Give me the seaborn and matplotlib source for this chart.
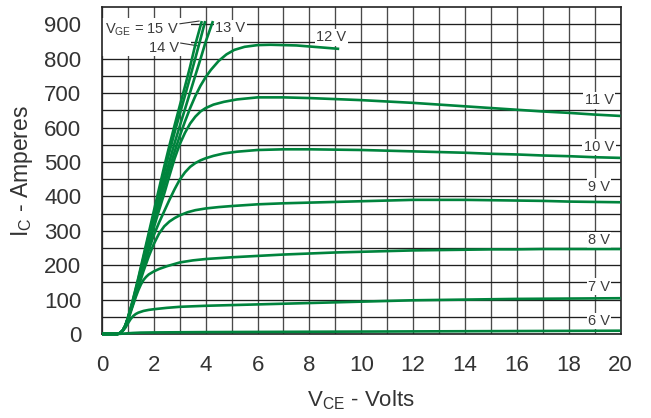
import matplotlib
matplotlib.use("Agg")
import matplotlib.pyplot as plt
import pandas as pd
import seaborn as sns
from matplotlib.patches import Rectangle
from matplotlib.ticker import MultipleLocator

# Output characteristics I_C vs V_CE, one curve per gate voltage
v_6v = [0, 0.6, 0.8, 1.0, 1.2, 1.5, 2, 3, 4, 6, 8, 10, 12, 14, 16, 18, 20]
i_6v = [0, 0, 1, 2, 3, 4, 4.5, 5, 5.5, 6, 6.5, 7, 7.5, 8, 8.5, 9, 9.5]

v_7v = [0, 0.6, 0.7, 0.8, 0.9, 1.0, 1.1, 1.2, 1.3, 1.4, 1.6, 1.8, 2.0, 2.5, 3.0,
        4.0, 5.0, 6.0, 7.0, 8.0, 9.0, 10, 12, 14, 16, 18, 20]
i_7v = [0, 0, 3, 9, 18, 31, 43, 52, 58, 62, 67, 70, 72, 76, 79,
        82, 84, 86, 88, 90, 92, 94, 98, 100, 102, 103, 104]

v_8v = [0, 0.6, 0.7, 0.8, 0.9, 1.0, 1.1, 1.2, 1.3, 1.4, 1.5, 1.6, 1.7, 1.8, 2.0,
        2.2, 2.5, 3.0, 3.5, 4.0, 5.0, 6.0, 7.0, 8.0, 9.0, 10, 11, 12, 13, 14,
        15, 16, 17, 18, 19, 20]
i_8v = [0, 0, 3, 10, 22, 40, 62, 85, 107, 127, 144, 157, 166, 173, 182,
        189, 197, 208, 214, 218, 223, 227, 231, 234, 237, 239, 241, 243, 244, 245,
        246, 246, 247, 247, 247, 247]

v_9v = [0, 0.6, 0.7, 0.8, 0.9, 1.0, 1.1, 1.2, 1.4, 1.6, 1.8, 2.0, 2.2, 2.4, 2.6,
        2.8, 3.0, 3.3, 3.6, 4.0, 4.5, 5.0, 6.0, 7.0, 8.0, 9.0, 10, 11, 12, 13,
        14, 15, 16, 17, 18, 19, 20]
i_9v = [0, 0, 3, 10, 23, 43, 66, 88, 136, 183, 225, 262, 292, 313, 327,
        337, 345, 354, 360, 365, 369, 372, 377, 380, 382, 384, 386, 388, 390, 390,
        390, 389, 388, 387, 385, 384, 383]

v_10v = [0, 0.6, 0.7, 0.8, 0.9, 1.0, 1.1, 1.2, 1.4, 1.6, 1.8, 2.0, 2.2, 2.4, 2.6,
         2.8, 3.0, 3.2, 3.4, 3.6, 3.8, 4.0, 4.3, 4.7, 5.2, 6.0, 7.0, 8.0, 9.0, 10,
         11, 12, 13, 14, 15, 16, 17, 18, 19, 20]
i_10v = [0, 0, 3, 10, 24, 44, 68, 91, 142, 194, 243, 288, 324, 357, 390,
         421, 449, 470, 486, 497, 505, 511, 518, 525, 530, 535, 537, 537, 536, 535,
         533, 531, 529, 527, 524, 522, 519, 517, 514, 512]

v_11v = [0, 0.6, 0.7, 0.8, 0.9, 1.0, 1.1, 1.2, 1.4, 1.6, 1.8, 2.0, 2.2, 2.4, 2.6,
         2.8, 3.0, 3.2, 3.4, 3.6, 3.8, 4.0, 4.3, 4.7, 5.2, 6.0, 7.0, 8.0, 9.0, 10,
         11, 12, 13, 14, 15, 16, 17, 18, 19, 20]
i_11v = [0, 0, 3, 10, 24, 45, 69, 93, 146, 202, 257, 310, 360, 408, 460,
         510, 552, 585, 612, 632, 647, 657, 667, 675, 682, 688, 688, 686, 683, 680,
         676, 672, 667, 662, 657, 652, 647, 643, 638, 634]

v_12v = [0, 0.6, 0.7, 0.8, 0.9, 1.0, 1.1, 1.2, 1.4, 1.6, 1.8, 2.0, 2.2, 2.4, 2.6,
         2.8, 3.0, 3.2, 3.4, 3.6, 3.8, 4.0, 4.2, 4.5, 4.8, 5.1, 5.5, 6.0, 6.5, 7.0,
         7.5, 8.0, 8.5, 9.15]
i_12v = [0, 0, 3, 10, 24, 45, 70, 95, 150, 208, 265, 322, 377, 430, 481,
         530, 576, 618, 657, 692, 722, 747, 768, 794, 813, 826, 835, 840, 841, 840,
         839, 836, 833, 829]

v_13v = [0, 0.6, 0.7, 0.8, 0.9, 1.0, 1.1, 1.2, 1.4, 1.6, 1.8, 2.0, 2.2, 2.4, 2.6,
         2.8, 3.0, 3.2, 3.4, 3.6, 3.8, 4.0, 4.28]
i_13v = [0, 0, 3, 10, 24, 46, 71, 97, 154, 214, 274, 333, 391, 448, 502,
         555, 605, 654, 703, 752, 800, 850, 910]

v_14v = [0, 0.6, 0.7, 0.8, 0.9, 1.0, 1.1, 1.2, 1.4, 1.6, 1.8, 2.0, 2.2, 2.4, 2.6,
         2.8, 3.0, 3.2, 3.4, 3.6, 3.8, 3.98]
i_14v = [0, 0, 3, 10, 25, 47, 73, 100, 159, 222, 285, 347, 409, 470, 529,
         586, 640, 693, 747, 802, 858, 910]

v_15v = [0, 0.6, 0.7, 0.8, 0.9, 1.0, 1.1, 1.2, 1.4, 1.6, 1.8, 2.0, 2.2, 2.4, 2.6,
         2.8, 3.0, 3.2, 3.4, 3.6, 3.85]
i_15v = [0, 0, 3, 10, 25, 48, 74, 102, 163, 228, 293, 358, 423, 487, 548,
         607, 664, 720, 778, 842, 910]

gate_names = ["6 V", "7 V", "8 V", "9 V", "10 V", "11 V", "12 V", "13 V", "14 V", "15 V"]
curves = [(v_6v, i_6v), (v_7v, i_7v), (v_8v, i_8v), (v_9v, i_9v), (v_10v, i_10v),
          (v_11v, i_11v), (v_12v, i_12v), (v_13v, i_13v), (v_14v, i_14v), (v_15v, i_15v)]

x_ticks = list(range(0, 21, 2))
y_ticks = list(range(0, 901, 100))

df = pd.concat(
    [pd.DataFrame({"V_CE": v, "I_C": i, "V_GE": name})
     for name, (v, i) in zip(gate_names, curves)],
    ignore_index=True,
)

GREEN = "#00843d"
TEXT = "#333333"
LABEL = "#3c3c3c"

sns.set_theme(style="white")
plt.rcParams["font.family"] = ["Liberation Sans", "DejaVu Sans"]

fig = plt.figure(figsize=(6.51, 4.18), dpi=100)
ax = fig.add_axes([0.1567, 0.2010, 0.7965, 0.7816])

sns.lineplot(
    data=df, x="V_CE", y="I_C", hue="V_GE", estimator=None, sort=False,
    palette={n: GREEN for n in gate_names}, legend=False, linewidth=1.9,
    ax=ax, zorder=3,
)
for line in ax.get_lines():
    line.set_clip_on(False)
    line.set_solid_capstyle("butt")
    line.set_solid_joinstyle("round")

ax.set_xlim(0, 20)
ax.set_ylim(0, 950)
ax.set_xticks(x_ticks)
ax.set_yticks(y_ticks)
ax.xaxis.set_minor_locator(MultipleLocator(1))
ax.set_yticks(list(range(50, 901, 100)), minor=True)
ax.set_axisbelow(True)
ax.yaxis.grid(True, which="both", color="#1f1f1f", linewidth=0.95)
ax.xaxis.grid(True, which="both", color="#4a4a4a", linewidth=0.95)
ax.tick_params(which="both", length=0)
ax.tick_params(axis="y", pad=15, labelsize=16, labelcolor=TEXT)
ax.tick_params(axis="x", pad=15, labelsize=16, labelcolor=TEXT)
for s in ax.spines.values():
    s.set_visible(True)
    s.set_color("#222222")
    s.set_linewidth(1.2)
ax.set_xlabel("")
ax.set_ylabel("")

# blank panel behind the gate-voltage key in the upper left
ax.add_patch(Rectangle((0, 808), 3.45, 112, facecolor="white", edgecolor="none", zorder=1.5))

box = dict(boxstyle="square,pad=0.1", facecolor="white", edgecolor="none")
fs = 10.5

ax.text(2.95, 874, r"$\mathregular{V_{GE}}$ = 15 V", ha="right", va="baseline",
        fontsize=fs, color=LABEL, zorder=2)
ax.plot([3.0, 3.75], [902, 910], color="#333333", lw=0.8, zorder=2.5, clip_on=False)
ax.text(2.98, 819, "14 V", ha="right", va="baseline", fontsize=fs, color=LABEL, zorder=2)
ax.plot([3.03, 3.68], [846, 838], color="#333333", lw=0.8, zorder=2.5)
ax.text(4.36, 877, "13 V", ha="left", va="baseline", fontsize=fs, color=LABEL,
        bbox=box, zorder=2)
ax.text(8.26, 851, "12 V", ha="left", va="baseline", fontsize=fs, color=LABEL,
        bbox=box, zorder=2)

right_labels = ["11 V", "10 V", "9 V", "8 V", "7 V", "6 V"]
right_baselines = [668, 532, 416, 261, 126, 26]
for txt, yb in zip(right_labels, right_baselines):
    ax.text(19.17, yb, txt, ha="center", va="baseline", fontsize=fs, color=LABEL,
            bbox=box, zorder=2)

fig.text(22 / 651, 1 - 171 / 418, r"$\mathregular{I_C}$ - Amperes", rotation=90,
         ha="center", va="center", fontsize=16.5, color=TEXT)
fig.text(361 / 651, 1 - 400 / 418, r"$\mathregular{V_{CE}}$ - Volts",
         ha="center", va="center", fontsize=16, color=TEXT)

fig.savefig("out.png", dpi=100)
